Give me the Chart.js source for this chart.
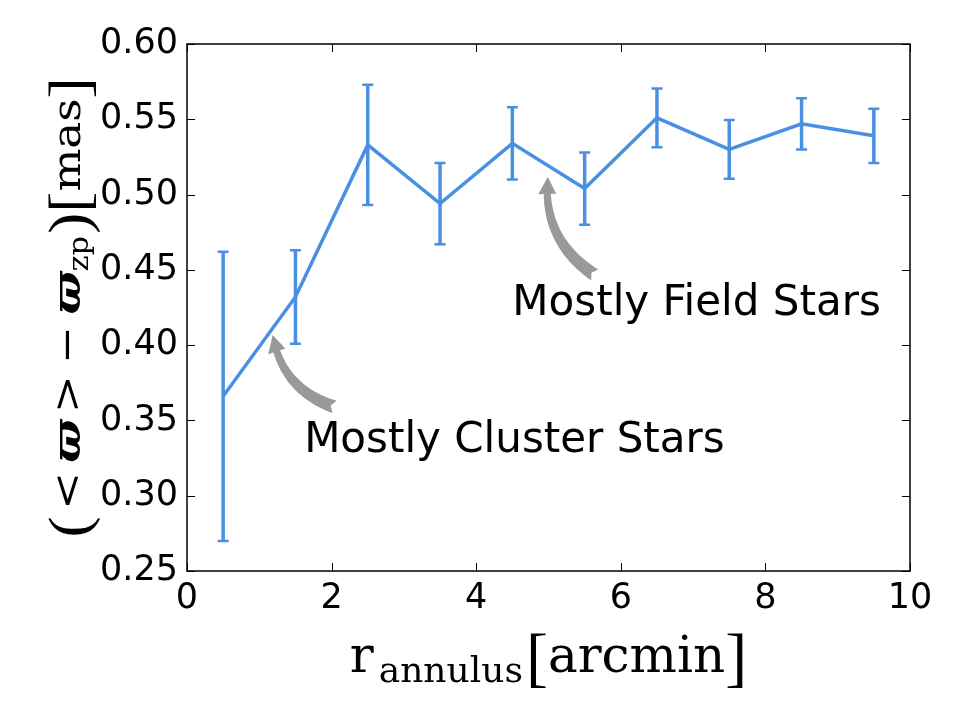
<!DOCTYPE html>
<html>
<head>
<meta charset="utf-8">
<title>Parallax offset vs annulus radius</title>
<script src="https://cdn.jsdelivr.net/npm/chart.js@4"></script>
<style>
  html, body { margin: 0; padding: 0; background: #fff; }
</style>
</head>
<body>
<canvas id="myChart" width="960" height="720"></canvas>
<script>
'use strict';

// annulus radius [arcmin] and mean parallax minus zero point [mas]
let radius = [0.5, 1.5, 2.5, 3.5, 4.5, 5.5, 6.5, 7.5, 8.5, 9.5];
let meanPlx = [0.366, 0.432, 0.533, 0.494, 0.534, 0.504, 0.551, 0.530, 0.547, 0.539];
let plxErr = [0.096, 0.031, 0.040, 0.027, 0.024, 0.024, 0.0195, 0.0195, 0.017, 0.018];

let xTicks = [0, 2, 4, 6, 8, 10];
let yTicks = [0.25, 0.30, 0.35, 0.40, 0.45, 0.50, 0.55, 0.60];

// annotation texts + where the arrows go (data coords)
let noteText = ['Mostly Cluster Stars', 'Mostly Field Stars'];
let noteX = [1.62, 4.5];
let noteY = [0.329, 0.420];
let arrowFromX = [2.04, 5.64];
let arrowFromY = [0.359, 0.4466];
let arrowToX = [1.185, 4.99];
let arrowToY = [0.4068, 0.5117];

let lineBlue = '#4a90e2';
let arrowGrey = '#999999';

let points = [];
for (let i = 0; i < radius.length; i++) {
  points.push({ x: radius[i], y: meanPlx[i] });
}

function drawFancyArrow(ctx, tx, ty, hx, hy, rad) {
  let dx = hx - tx;
  let dy = hy - ty;
  let cx = (tx + hx) / 2 + rad * dy;
  let cy = (ty + hy) / 2 - rad * dx;

  function pt(t) {
    let a = (1 - t) * (1 - t), b = 2 * (1 - t) * t, c = t * t;
    return [a * tx + b * cx + c * hx, a * ty + b * cy + c * hy];
  }
  function nrm(t) {
    let gx = 2 * (1 - t) * (cx - tx) + 2 * t * (hx - cx);
    let gy = 2 * (1 - t) * (cy - ty) + 2 * t * (hy - cy);
    let l = Math.sqrt(gx * gx + gy * gy);
    return [-gy / l, gx / l, gx / l, gy / l];
  }

  let len = 0;
  let prev = pt(0);
  for (let i = 1; i <= 40; i++) {
    let p = pt(i / 40);
    len += Math.hypot(p[0] - prev[0], p[1] - prev[1]);
    prev = p;
  }
  let headLen = 16;
  let tBase = 1 - headLen / len;
  let left = [];
  let right = [];
  let n = 30;
  for (let i = 0; i <= n; i++) {
    let t = tBase * i / n;
    let w = 6.5 - 3 * (i / n);
    let p = pt(t);
    let q = nrm(t);
    left.push([p[0] + q[0] * w, p[1] + q[1] * w]);
    right.push([p[0] - q[0] * w, p[1] - q[1] * w]);
  }
  let pb = pt(tBase);
  let nb = nrm(tBase);
  let hw = 9;

  ctx.save();
  ctx.fillStyle = arrowGrey;
  ctx.beginPath();
  let p0 = pt(0);
  let n0 = nrm(0);
  // little notch at the tail end
  ctx.moveTo(p0[0] + n0[2] * 4, p0[1] + n0[3] * 4);
  for (let i = 0; i < left.length; i++) ctx.lineTo(left[i][0], left[i][1]);
  ctx.lineTo(pb[0] + nb[0] * hw, pb[1] + nb[1] * hw);
  ctx.lineTo(hx, hy);
  ctx.lineTo(pb[0] - nb[0] * hw, pb[1] - nb[1] * hw);
  for (let i = right.length - 1; i >= 0; i--) ctx.lineTo(right[i][0], right[i][1]);
  ctx.closePath();
  ctx.fill();
  ctx.restore();
}

// draws pieces of text one after another, returns total width
function drawRuns(ctx, runs, x, draw) {
  let pos = x;
  for (let i = 0; i < runs.length; i++) {
    let r = runs[i];
    ctx.font = r.font;
    pos += r.gap || 0;
    if (draw) ctx.fillText(r.text, pos, r.dy || 0);
    pos += ctx.measureText(r.text).width;
  }
  return pos - x;
}

let paperPlugin = {
  id: 'paper',
  afterDatasetsDraw(chart) {
    let ctx = chart.ctx;
    let xs = chart.scales.x;
    let ys = chart.scales.y;
    let area = chart.chartArea;

    // error bars
    ctx.save();
    ctx.strokeStyle = lineBlue;
    for (let i = 0; i < radius.length; i++) {
      let px = xs.getPixelForValue(radius[i]);
      let top = ys.getPixelForValue(meanPlx[i] + plxErr[i]);
      let bot = ys.getPixelForValue(meanPlx[i] - plxErr[i]);
      ctx.lineWidth = 3.5;
      ctx.beginPath();
      ctx.moveTo(px, top);
      ctx.lineTo(px, bot);
      ctx.stroke();
      ctx.lineWidth = 2.5;
      ctx.beginPath();
      ctx.moveTo(px - 5.5, top);
      ctx.lineTo(px + 5.5, top);
      ctx.moveTo(px - 5.5, bot);
      ctx.lineTo(px + 5.5, bot);
      ctx.stroke();
    }
    ctx.restore();

    // frame + inward ticks on all four sides
    ctx.save();
    ctx.strokeStyle = '#000';
    ctx.lineWidth = 1.5;
    ctx.strokeRect(area.left, area.top, area.right - area.left, area.bottom - area.top);
    ctx.lineWidth = 1;
    ctx.beginPath();
    for (let i = 0; i < xTicks.length; i++) {
      let px = Math.round(xs.getPixelForValue(xTicks[i])) + 0.5;
      ctx.moveTo(px, area.bottom);
      ctx.lineTo(px, area.bottom - 8);
      ctx.moveTo(px, area.top);
      ctx.lineTo(px, area.top + 8);
    }
    for (let i = 0; i < yTicks.length; i++) {
      let py = Math.round(ys.getPixelForValue(yTicks[i])) + 0.5;
      ctx.moveTo(area.left, py);
      ctx.lineTo(area.left + 8, py);
      ctx.moveTo(area.right, py);
      ctx.lineTo(area.right - 8, py);
    }
    ctx.stroke();
    ctx.restore();

    // arrows + notes
    for (let i = 0; i < noteText.length; i++) {
      drawFancyArrow(ctx,
        xs.getPixelForValue(arrowFromX[i]), ys.getPixelForValue(arrowFromY[i]),
        xs.getPixelForValue(arrowToX[i]), ys.getPixelForValue(arrowToY[i]), 0.3);
      ctx.save();
      ctx.fillStyle = '#000';
      ctx.font = '42px "DejaVu Sans"';
      ctx.textBaseline = 'alphabetic';
      ctx.textAlign = 'left';
      ctx.fillText(noteText[i], xs.getPixelForValue(noteX[i]), ys.getPixelForValue(noteY[i]));
      ctx.restore();
    }

    // x axis title: r_annulus [arcmin]
    ctx.save();
    ctx.fillStyle = '#000';
    ctx.textBaseline = 'alphabetic';
    let xRuns = [
      { text: 'r', font: '50px "DejaVu Serif"' },
      { text: 'annulus', font: '36px "DejaVu Serif"', dy: 10, gap: 5 },
      { text: '[', font: '66px "Liberation Serif"', gap: 3, dy: 7 },
      { text: 'arcmin', font: '50px "DejaVu Serif"' },
      { text: ']', font: '66px "Liberation Serif"', dy: 7 }
    ];
    let xw = drawRuns(ctx, xRuns, 0, false);
    ctx.translate((area.left + area.right) / 2 - xw / 2, 672);
    drawRuns(ctx, xRuns, 0, true);
    ctx.restore();

    // y axis title: (<varpi> - varpi_zp)[mas]
    ctx.save();
    ctx.fillStyle = '#000';
    ctx.textBaseline = 'alphabetic';
    let yRuns = [
      { text: '(', font: '56px "Liberation Serif"', dy: 8 },
      { text: '<', font: '40px "DejaVu Serif"', gap: 6 },
      { text: '\u03d6', font: 'bold italic 40px "DejaVu Serif"', gap: 8 },
      { text: '>', font: '40px "DejaVu Serif"', gap: 6 },
      { text: '\u2212', font: '40px "DejaVu Serif"', gap: 10 },
      { text: '\u03d6', font: 'bold italic 40px "DejaVu Serif"', gap: 10 },
      { text: 'zp', font: '27px "DejaVu Serif"', dy: 8 },
      { text: ')', font: '56px "Liberation Serif"', dy: 8, gap: 2 },
      { text: '[', font: '56px "Liberation Serif"', dy: 8 },
      { text: 'mas', font: '40px "DejaVu Serif"' },
      { text: ']', font: '56px "Liberation Serif"', dy: 8 }
    ];
    let yw = drawRuns(ctx, yRuns, 0, false);
    let cy = (area.top + area.bottom) / 2;
    ctx.translate(80, cy);
    ctx.rotate(-Math.PI / 2);
    ctx.scale(460 / yw, 1);
    drawRuns(ctx, yRuns, -yw / 2, true);
    ctx.restore();
  }
};

const ctx = document.getElementById('myChart');

new Chart(ctx, {
  type: 'line',
  data: {
    datasets: [
      {
        label: 'parallax offset',
        data: points,
        borderColor: lineBlue,
        backgroundColor: lineBlue,
        borderWidth: 3.5,
        pointRadius: 0,
        tension: 0,
        fill: false
      }
    ]
  },
  options: {
    responsive: false,
    animation: false,
    devicePixelRatio: 1,
    layout: { padding: { top: 44, right: 50, left: 0, bottom: 0 } },
    plugins: {
      legend: { display: false },
      tooltip: { enabled: false }
    },
    scales: {
      x: {
        type: 'linear',
        min: 0,
        max: 10,
        afterBuildTicks: function(scale) {
          scale.ticks = xTicks.map(v => ({ value: v }));
        },
        afterFit: function(scale) { scale.height = 149; },
        ticks: {
          color: '#000',
          font: { family: 'DejaVu Sans', size: 35 },
          padding: 7,
          maxRotation: 0,
          callback: v => String(v)
        },
        grid: { display: false, drawTicks: false },
        border: { display: false }
      },
      y: {
        type: 'linear',
        min: 0.25,
        max: 0.60,
        afterBuildTicks: function(scale) {
          scale.ticks = yTicks.map(v => ({ value: v }));
        },
        afterFit: function(scale) { scale.width = 187; },
        ticks: {
          color: '#000',
          font: { family: 'DejaVu Sans', size: 35 },
          padding: 9,
          callback: v => v.toFixed(2)
        },
        grid: { display: false, drawTicks: false },
        border: { display: false }
      }
    }
  },
  plugins: [paperPlugin]
});
</script>
</body>
</html>
